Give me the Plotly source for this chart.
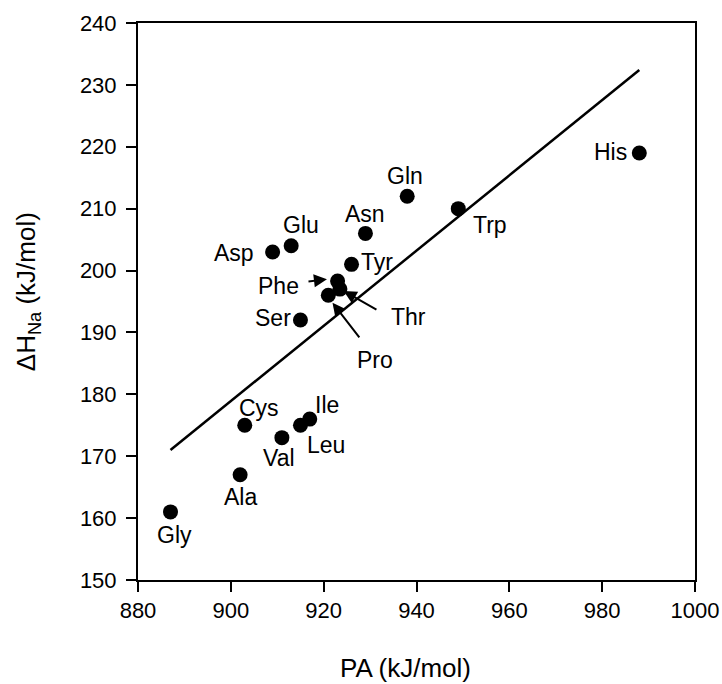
import plotly.graph_objects as go

# Data
names = ["Gly", "Ala", "Cys", "Val", "Leu", "Ile", "Ser", "Pro", "Phe", "Thr",
         "Tyr", "Asp", "Glu", "Asn", "Gln", "Trp", "His"]
pa = [887, 902, 903, 911, 915, 917, 915, 921, 923, 923.5, 926, 909, 913, 929, 938, 949, 988]
dh = [161, 167, 175, 173, 175, 176, 192, 196, 198.3, 197, 201, 203, 204, 206, 212, 210, 219]

# Label positions (data coords)
label_x = [887.8, 902.0, 906.1, 910.4, 920.5, 920.8, 909.1, 931.1, 910.2, 938.2,
           931.5, 900.7, 915.2, 928.8, 937.6, 955.9, 981.7]
label_y = [157.3, 163.4, 177.8, 169.7, 171.8, 178.3, 192.3, 185.5, 197.5, 192.5,
           201.4, 202.8, 207.3, 209.2, 215.2, 207.4, 219.2]

# Arrows (tail -> head) for crowded labels
arrow_names = ["Phe", "Thr", "Pro"]
arrow_tail_x = [916.3, 931.8, 928.1]
arrow_tail_y = [198.2, 193.5, 188.8]
arrow_head_x = [920.7, 924.3, 921.9]
arrow_head_y = [198.6, 196.7, 194.8]

# Fitted line endpoints
fit_x = [887, 988]
fit_y = [171.0, 232.4]

x_ticks = [880, 900, 920, 940, 960, 980, 1000]
y_ticks = [150, 160, 170, 180, 190, 200, 210, 220, 230, 240]

FONT = "Liberation Sans, Arial, sans-serif"

fig = go.Figure()
fig.add_trace(go.Scatter(x=fit_x, y=fit_y, mode="lines",
                         line=dict(color="black", width=2.5), showlegend=False))
fig.add_trace(go.Scatter(x=pa, y=dh, mode="markers",
                         marker=dict(color="black", size=15), showlegend=False))

annotations = []
for n, lx, ly in zip(names, label_x, label_y):
    annotations.append(dict(x=lx, y=ly, xref="x", yref="y", text=n, showarrow=False,
                            xanchor="center", yanchor="middle",
                            font=dict(family=FONT, size=23, color="black")))
for n, tx, ty, hx, hy in zip(arrow_names, arrow_tail_x, arrow_tail_y, arrow_head_x, arrow_head_y):
    annotations.append(dict(x=hx, y=hy, ax=tx, ay=ty, xref="x", yref="y",
                            axref="x", ayref="y", text=" ", showarrow=True,
                            arrowhead=2, arrowsize=1.3, arrowwidth=2, arrowcolor="black",
                            standoff=0, startstandoff=0,
                            font=dict(family=FONT, size=2, color="black")))

annotations.append(dict(x=0.4796, y=-0.158, xref="paper", yref="paper",
                        text="PA (kJ/mol)", showarrow=False, xanchor="center", yanchor="middle",
                        font=dict(family=FONT, size=26, color="black")))
annotations.append(dict(x=-0.199, y=0.517, xref="paper", yref="paper",
                        text="ΔH<sub>Na</sub> (kJ/mol)", showarrow=False, textangle=-90,
                        xanchor="center", yanchor="middle",
                        font=dict(family=FONT, size=26, color="black")))

axis_common = dict(showgrid=False, zeroline=False, showline=True, linecolor="black",
                   linewidth=2, mirror=True, ticks="outside", ticklen=10, tickwidth=2,
                   tickcolor="black", automargin=False,
                   tickfont=dict(family=FONT, size=22, color="black"))

fig.update_layout(
    width=722, height=684,
    margin=dict(l=138, r=27, t=23, b=104, autoexpand=False),
    paper_bgcolor="white", plot_bgcolor="white",
    xaxis=dict(range=[880, 1000], tickvals=x_ticks, **axis_common),
    yaxis=dict(range=[150, 240], tickvals=y_ticks, ticklabelstandoff=5, **axis_common),
    annotations=annotations,
    showlegend=False,
)

fig.write_html("out.html", config={"displayModeBar": False},
               post_script="document.body.style.margin='0';document.body.style.padding='0';")
